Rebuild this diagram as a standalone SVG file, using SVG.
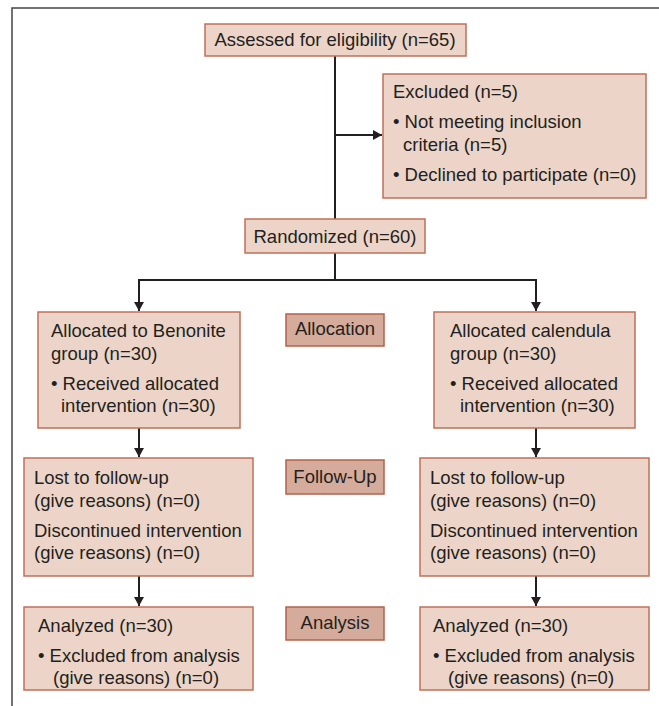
<svg xmlns="http://www.w3.org/2000/svg" width="659" height="706" viewBox="0 0 659 706">
<defs>
<style>
.box{fill:#ecd4c8;stroke:#c0705a;stroke-width:1.5}
.lab{fill:#d5ab9b;stroke:#b5604a;stroke-width:1.5}
text{font-family:"Liberation Sans",Arial,sans-serif;font-size:18.5px;fill:#231f20}
.c{text-anchor:middle}
.ln{stroke:#231f20;stroke-width:2;fill:none}
</style>
<marker id="ah" markerWidth="9" markerHeight="10" refX="9" refY="5" orient="auto" markerUnits="userSpaceOnUse">
<path d="M0,0 L9,5 L0,10 Z" fill="#231f20"/>
</marker>
</defs>
<rect x="0" y="0" width="659" height="706" fill="#ffffff"/>
<path d="M12,706 V8 H659" fill="none" stroke="#444" stroke-width="1.5"/>
<g id="connectors">
<path class="ln" d="M335,56 V219"/>
<path class="ln" d="M335,135 H382" marker-end="url(#ah)"/>
<path class="ln" d="M335,253 V280 M139,280 H536"/>
<path class="ln" d="M139,279 V311" marker-end="url(#ah)"/>
<path class="ln" d="M536,279 V311" marker-end="url(#ah)"/>
<path class="ln" d="M139,428 V457" marker-end="url(#ah)"/>
<path class="ln" d="M536,428 V457" marker-end="url(#ah)"/>
<path class="ln" d="M139,576 V606" marker-end="url(#ah)"/>
<path class="ln" d="M536,576 V606" marker-end="url(#ah)"/>
</g>
<g id="assessed">
<rect class="box" x="205" y="24" width="261" height="32"/>
<text class="c" x="335" y="46">Assessed for eligibility (n=65)</text>
</g>
<g id="excluded">
<rect class="box" x="383" y="74" width="263" height="124"/>
<text x="393" y="98">Excluded (n=5)</text>
<text x="393" y="128">• Not meeting inclusion</text>
<text x="403" y="151">criteria (n=5)</text>
<text x="393" y="181">• Declined to participate (n=0)</text>
</g>
<g id="randomized">
<rect class="box" x="245" y="219" width="180" height="34"/>
<text class="c" x="335" y="243">Randomized (n=60)</text>
</g>
<g id="alloc-left">
<rect class="box" x="38" y="312" width="202" height="116"/>
<text x="51" y="337">Allocated to Benonite</text>
<text x="51" y="360">group (n=30)</text>
<text x="51" y="390">• Received allocated</text>
<text x="61" y="412">intervention (n=30)</text>
</g>
<g id="allocation-label">
<rect class="lab" x="286" y="314" width="98" height="32"/>
<text class="c" x="335" y="335">Allocation</text>
</g>
<g id="alloc-right">
<rect class="box" x="434" y="312" width="201" height="116"/>
<text x="450" y="337">Allocated calendula</text>
<text x="450" y="360">group (n=30)</text>
<text x="450" y="390">• Received allocated</text>
<text x="460" y="412">intervention (n=30)</text>
</g>
<g id="follow-left">
<rect class="box" x="24" y="458" width="229" height="118"/>
<text x="34" y="484">Lost to follow-up</text>
<text x="34" y="507">(give reasons) (n=0)</text>
<text x="34" y="537">Discontinued intervention</text>
<text x="34" y="559">(give reasons) (n=0)</text>
</g>
<g id="followup-label">
<rect class="lab" x="286" y="460" width="98" height="34"/>
<text class="c" x="335" y="483">Follow-Up</text>
</g>
<g id="follow-right">
<rect class="box" x="420" y="458" width="229" height="118"/>
<text x="430" y="484">Lost to follow-up</text>
<text x="430" y="507">(give reasons) (n=0)</text>
<text x="430" y="537">Discontinued intervention</text>
<text x="430" y="559">(give reasons) (n=0)</text>
</g>
<g id="analyzed-left">
<rect class="box" x="24" y="607" width="229" height="83"/>
<text x="38" y="632">Analyzed (n=30)</text>
<text x="38" y="662">• Excluded from analysis</text>
<text x="53" y="684">(give reasons) (n=0)</text>
</g>
<g id="analysis-label">
<rect class="lab" x="286" y="607" width="98" height="33"/>
<text class="c" x="335" y="629">Analysis</text>
</g>
<g id="analyzed-right">
<rect class="box" x="420" y="607" width="229" height="83"/>
<text x="433" y="632">Analyzed (n=30)</text>
<text x="433" y="662">• Excluded from analysis</text>
<text x="448" y="684">(give reasons) (n=0)</text>
</g>
</svg>
